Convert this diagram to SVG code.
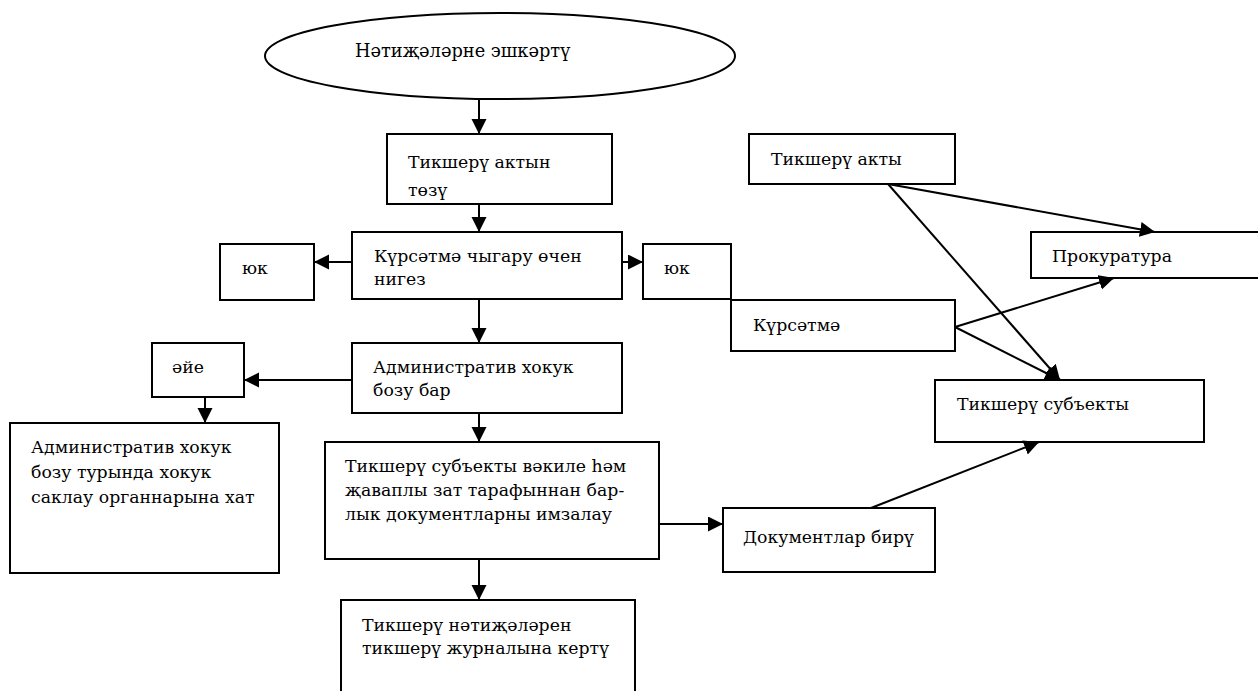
<svg xmlns="http://www.w3.org/2000/svg" width="1258" height="691" viewBox="0 0 1258 691">
<style>
.b{fill:#fff;stroke:#000;stroke-width:2}
text{font-family:'DejaVu Serif',serif;font-size:17.3px;fill:#000}
.c line{stroke:#000;stroke-width:2;marker-end:url(#ah)}
</style>
<defs>
<marker id="ah" markerUnits="userSpaceOnUse" markerWidth="16" markerHeight="16" refX="15" refY="7.5" orient="auto">
<path d="M0,0 L15,7.5 L0,15 z" fill="#000"/>
</marker>
</defs>
<rect width="1258" height="691" fill="#fff"/>
<g id="n-start"><ellipse class="b" cx="500" cy="56" rx="235" ry="43"/><text x="355" y="57" style="font-size:17.8px">Нәтиҗәләрне эшкәртү</text></g>
<g id="n-akt"><rect class="b" x="387" y="134" width="225" height="70"/><text x="408" y="168">Тикшерү актын</text><text x="408" y="196">төзү</text></g>
<g id="n-nigez"><rect class="b" x="352" y="232" width="270" height="67"/><text x="374" y="262">Күрсәтмә чыгару өчен</text><text x="374" y="285">нигез</text></g>
<g id="n-yuk1"><rect class="b" x="220" y="244" width="94" height="56"/><text x="242" y="274">юк</text></g>
<g id="n-yuk2"><rect class="b" x="643" y="244" width="88" height="55"/><text x="664" y="274">юк</text></g>
<g id="n-adm"><rect class="b" x="352" y="343" width="270" height="70"/><text x="373" y="373">Административ хокук</text><text x="373" y="396">бозу бар</text></g>
<g id="n-aye"><rect class="b" x="152" y="343" width="92" height="54"/><text x="172" y="373">әйе</text></g>
<g id="n-hat"><rect class="b" x="10" y="423" width="269" height="150"/><text x="31" y="453">Административ хокук</text><text x="31" y="478">бозу турында хокук</text><text x="31" y="503">саклау органнарына хат</text></g>
<g id="n-imza"><rect class="b" x="325" y="442" width="334" height="117"/><text x="345" y="472">Тикшерү субъекты вәкиле һәм</text><text x="345" y="496">җаваплы зат тарафыннан бар-</text><text x="345" y="520">лык документларны имзалау</text></g>
<g id="n-jurnal"><rect class="b" x="341" y="600" width="294" height="110"/><text x="362" y="631">Тикшерү нәтиҗәләрен</text><text x="362" y="654">тикшерү журналына кертү</text></g>
<g id="n-docs"><rect class="b" x="723" y="508" width="212" height="64"/><text x="743" y="543">Документлар бирү</text></g>
<g id="n-akty"><rect class="b" x="749" y="134" width="206" height="50"/><text x="771" y="165">Тикшерү акты</text></g>
<g id="n-prok"><rect class="b" x="1031" y="232" width="240" height="46"/><text x="1052" y="262">Прокуратура</text></g>
<g id="n-kurs"><rect class="b" x="731" y="300" width="224" height="51"/><text x="753" y="331">Күрсәтмә</text></g>
<g id="n-subj"><rect class="b" x="935" y="380" width="269" height="62"/><text x="957" y="410">Тикшерү субъекты</text></g>
<g id="connectors" class="c">
<line x1="479" y1="99" x2="479" y2="134"/>
<line x1="479" y1="204" x2="479" y2="232"/>
<line x1="352" y1="262" x2="314" y2="262"/>
<line x1="622" y1="262" x2="643" y2="262"/>
<line x1="479" y1="299" x2="479" y2="343"/>
<line x1="352" y1="380" x2="244" y2="380"/>
<line x1="205" y1="397" x2="205" y2="423"/>
<line x1="479" y1="413" x2="479" y2="442"/>
<line x1="659" y1="524" x2="723" y2="524"/>
<line x1="479" y1="559" x2="479" y2="600"/>
<line x1="888" y1="184" x2="1155" y2="232"/>
<line x1="888" y1="184" x2="1060" y2="380"/>
<line x1="955" y1="327" x2="1114" y2="278"/>
<line x1="955" y1="327" x2="1060" y2="380"/>
<line x1="871" y1="508" x2="1039" y2="442"/>
</g>
</svg>
